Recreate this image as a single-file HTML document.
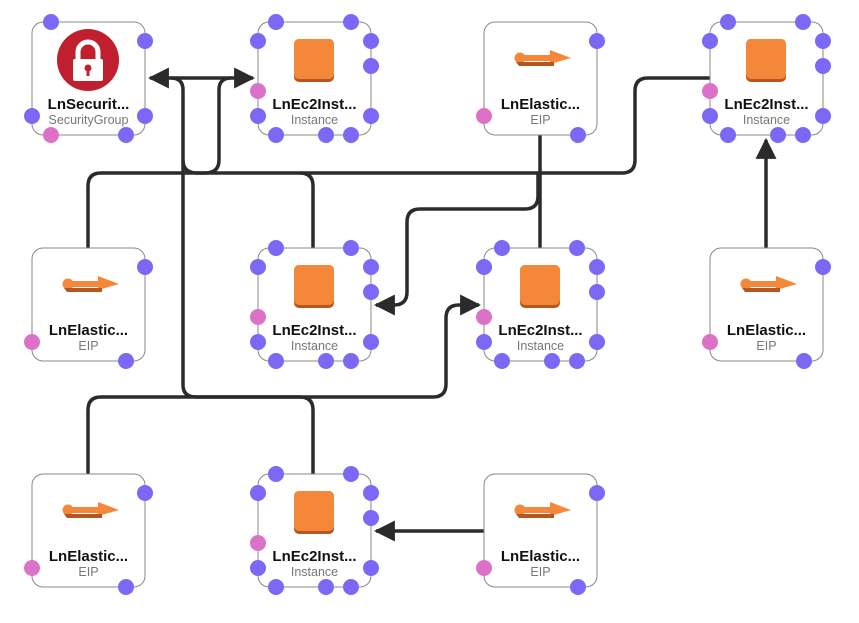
<!DOCTYPE html><html><head><style>body{margin:0;background:#fff}svg{display:block}text{font-family:"Liberation Sans",sans-serif;text-anchor:middle}.t{font-weight:bold;font-size:15px;fill:#111}.s{font-size:12.5px;fill:#777}</style></head><body>
<svg width="859" height="623" viewBox="0 0 859 623">
<defs>
<marker id="a" viewBox="0 0 10 10" refX="9" refY="5" markerWidth="6" markerHeight="6" orient="auto-start-reverse" markerUnits="strokeWidth"><path d="M0,0L10,5L0,10z" fill="#2b2b2b"/></marker>
<g id="box"><rect x="0" y="0" width="113" height="113" rx="11" fill="#fff" stroke="#888" stroke-width="1"/></g>
<g id="inst"><use href="#box"/><rect x="36" y="17" width="40" height="43" rx="5" fill="#b8561f"/><rect x="36" y="17" width="40" height="40" rx="5" fill="#f4873a"/>
<g fill="#7b68f6"><circle cx="18" cy="0" r="8"/><circle cx="93" cy="0" r="8"/><circle cx="0" cy="19" r="8"/><circle cx="0" cy="94" r="8"/><circle cx="113" cy="19" r="8"/><circle cx="113" cy="44" r="8"/><circle cx="113" cy="94" r="8"/><circle cx="18" cy="113" r="8"/><circle cx="68" cy="113" r="8"/><circle cx="93" cy="113" r="8"/></g><circle cx="0" cy="69" r="8" fill="#dc72c8"/></g>
<g id="eip"><use href="#box"/><g fill="#f4873a"><circle cx="36" cy="36" r="5.5"/><rect x="36" y="33" width="33" height="6"/><path d="M66,28L87,36L66,42z"/></g><path d="M32,40L70,40L70,44L35,44z" fill="#b8561f"/>
<circle cx="113" cy="19" r="8" fill="#7b68f6"/><circle cx="94" cy="113" r="8" fill="#7b68f6"/><circle cx="0" cy="94" r="8" fill="#dc72c8"/></g>
</defs>
<g fill="none" stroke="#2b2b2b" stroke-width="3.5">
<path d="M172,78H150" marker-end="url(#a)"/>
<path d="M172,78H253" marker-end="url(#a)"/>
<path d="M183,385V90Q183,78 171,78"/>
<path d="M219,160V90Q219,78 231,78"/>
<path d="M219,160Q219,173 205,173H197Q183,173 183,160"/>
<path d="M88,248V186Q88,173 101,173H622Q635,173 635,160V91Q635,78 648,78H710"/>
<path d="M313,248V186Q313,173 300,173"/>
<path d="M540,135V248"/>
<path d="M538,173V196Q538,209 525,209H420Q407,209 407,222V292Q407,305 394,305H376" marker-end="url(#a)"/>
<path d="M183,385Q183,397 196,397H433Q446,397 446,384V318Q446,305 459,305H479" marker-end="url(#a)"/>
<path d="M88,474V410Q88,397 101,397H300Q313,397 313,410V474"/>
<path d="M484,531H376" marker-end="url(#a)"/>
<path d="M766,248V140" marker-end="url(#a)"/>
</g>
<g transform="translate(32,22)"><use href="#box"/><circle cx="56" cy="38" r="31" fill="#c0202e"/><path d="M46,38V30A10,10 0 0 1 66,30V38" fill="none" stroke="#fff" stroke-width="5"/><rect x="41" y="37" width="30" height="22" rx="2" fill="#fff"/><circle cx="56" cy="46" r="3.5" fill="#c0202e"/><rect x="54.5" y="47" width="3" height="7" fill="#c0202e"/>
<g fill="#7b68f6"><circle cx="19" cy="0" r="8"/><circle cx="113" cy="19" r="8"/><circle cx="0" cy="94" r="8"/><circle cx="113" cy="94" r="8"/><circle cx="94" cy="113" r="8"/></g><circle cx="19" cy="113" r="8" fill="#dc72c8"/>
<text class="t" x="56.5" y="87">LnSecurit...</text><text class="s" x="56.5" y="102">SecurityGroup</text></g>
<g transform="translate(258,22)"><use href="#inst"/><text class="t" x="56.5" y="87">LnEc2Inst...</text><text class="s" x="56.5" y="102">Instance</text></g>
<g transform="translate(484,22)"><use href="#eip"/><text class="t" x="56.5" y="87">LnElastic...</text><text class="s" x="56.5" y="102">EIP</text></g>
<g transform="translate(710,22)"><use href="#inst"/><text class="t" x="56.5" y="87">LnEc2Inst...</text><text class="s" x="56.5" y="102">Instance</text></g>
<g transform="translate(32,248)"><use href="#eip"/><text class="t" x="56.5" y="87">LnElastic...</text><text class="s" x="56.5" y="102">EIP</text></g>
<g transform="translate(258,248)"><use href="#inst"/><text class="t" x="56.5" y="87">LnEc2Inst...</text><text class="s" x="56.5" y="102">Instance</text></g>
<g transform="translate(484,248)"><use href="#inst"/><text class="t" x="56.5" y="87">LnEc2Inst...</text><text class="s" x="56.5" y="102">Instance</text></g>
<g transform="translate(710,248)"><use href="#eip"/><text class="t" x="56.5" y="87">LnElastic...</text><text class="s" x="56.5" y="102">EIP</text></g>
<g transform="translate(32,474)"><use href="#eip"/><text class="t" x="56.5" y="87">LnElastic...</text><text class="s" x="56.5" y="102">EIP</text></g>
<g transform="translate(258,474)"><use href="#inst"/><text class="t" x="56.5" y="87">LnEc2Inst...</text><text class="s" x="56.5" y="102">Instance</text></g>
<g transform="translate(484,474)"><use href="#eip"/><text class="t" x="56.5" y="87">LnElastic...</text><text class="s" x="56.5" y="102">EIP</text></g>
</svg></body></html>
